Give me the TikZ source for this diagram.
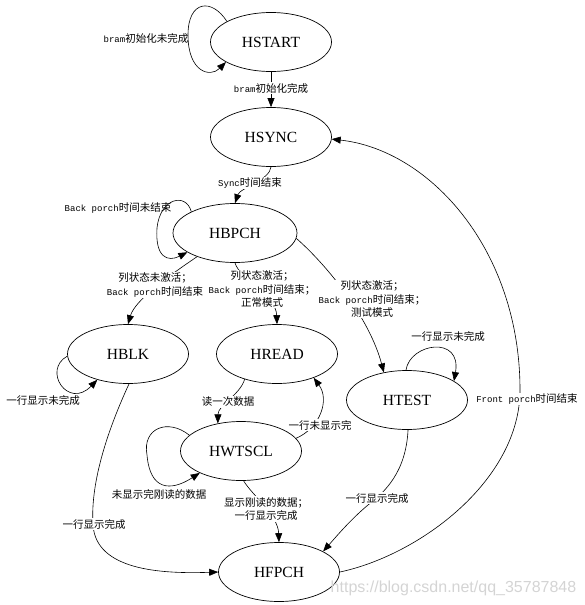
\documentclass[tikz,border=0pt]{standalone}
\usepackage{fontspec}
\usetikzlibrary{shapes.geometric,arrows.meta}
\setmainfont{Liberation Serif}
\newfontfamily\cjkf{Noto Sans CJK SC}
\newfontfamily\lmono{Liberation Mono}
\newfontfamily\wmfont{Liberation Sans}
\newcommand{\lm}[1]{{\lmono\fontsize{9}{13.5}\selectfont #1}}
\begin{document}
\begin{tikzpicture}[x=1pt,y=-1pt,
  state/.style={ellipse,draw,line width=0.7pt,minimum width=121pt,minimum height=59pt,inner sep=0pt,font=\fontsize{15.5}{18}\selectfont},
  lab/.style={font=\cjkf\fontsize{10.5}{13.5}\selectfont,align=center,inner sep=1pt},
  wlab/.style={lab,fill=white},
  edge/.style={line width=0.6pt,-{Triangle[length=9pt,width=7pt]}}
]
\useasboundingbox (0,0) rectangle (584,605);

% states
\node[state] (hstart) at (271,42) {HSTART};
\node[state] (hsync)  at (271,137) {HSYNC};
\node[state,minimum width=124pt] (hbpch) at (235,233) {HBPCH};
\node[state] (hblk)   at (128,354) {HBLK};
\node[state] (hread)  at (277,354) {HREAD};
\node[state] (htest)  at (407,400) {HTEST};
\node[state] (hwtscl) at (241,451) {HWTSCL};
\node[state] (hfpch)  at (279,572) {HFPCH};

% edges
\draw[edge] (hstart.155) .. controls (212,-2) and (188,0) .. (188,35) .. controls (188,72) and (210,78) .. (hstart.204);
\draw[edge] (hstart) -- (hsync);
\draw[edge] (hsync.south) .. controls (270,180) and (240,188) .. (hbpch.north);
\draw[edge] (hbpch.154) .. controls (186,192) and (160,198) .. (157,228) .. controls (155,258) and (168,262) .. (hbpch.202);
\draw[edge] (hbpch.212) .. controls (170,275) and (135,300) .. (hblk.north);
\draw[edge] (hbpch.south) .. controls (240,280) and (276,295) .. (hread.north);
\draw[edge] (hbpch.-5) .. controls (330,268) and (370,320) .. (htest.130);
\draw[edge] (htest.92) .. controls (410,343) and (462,335) .. (htest.22);
\draw[edge] (hblk.182) .. controls (42,370) and (68,410) .. (hblk.220);
\draw[edge] (hblk.-88) .. controls (110,425) and (90,480) .. (93,525) .. controls (96,570) and (160,574) .. (hfpch.west);
\draw[edge] (hread.218) .. controls (240,395) and (218,405) .. (hwtscl.130);
\draw[edge] (hwtscl.13) .. controls (320,428) and (330,400) .. (hread.-33);
\draw[edge] (hwtscl.163) .. controls (168,418) and (142,428) .. (147,455) .. controls (150,490) and (170,492) .. (hwtscl.208);
\draw[edge] (hwtscl.-85) .. controls (252,495) and (278,515) .. (hfpch.north);
\draw[edge] (htest.-88) .. controls (406,472) and (385,492) .. (368,505) .. controls (350,520) and (335,538) .. (hfpch.25);
\draw[edge] (hfpch.east) .. controls (420,555) and (520,480) .. (520,390) .. controls (520,250) and (430,150) .. (hsync.-2);

% labels
\node[lab]  (l1)  at (146,38)  {\lm{bram}初始化未完成};
\node[wlab] (l2)  at (271,88)  {\lm{bram}初始化完成};
\node[wlab] (l3)  at (250,183) {\lm{Sync}时间结束};
\node[lab]  (l4)  at (118,208) {\lm{Back porch}时间未结束};
\node[wlab] (l5)  at (155,285) {列状态未激活；\\\lm{Back porch}时间结束};
\node[wlab] (l6)  at (262,289) {列状态激活；\\\lm{Back porch}时间结束；\\正常模式};
\node[wlab] (l7)  at (372,299) {列状态激活；\\\lm{Back porch}时间结束；\\测试模式};
\node[lab]  (l8)  at (448,336) {一行显示未完成};
\node[lab]  (l9)  at (43,400)  {一行显示未完成};
\node[wlab] (l10) at (94,524)  {一行显示完成};
\node[wlab] (l11) at (228,402) {读一次数据};
\node[wlab] (l12) at (320,425) {一行未显示完};
\node[wlab] (l13) at (159,494) {未显示完刚读的数据};
\node[wlab] (l14) at (266,509) {显示刚读的数据；\\一行显示完成};
\node[wlab] (l15) at (377,498) {一行显示完成};
\node[wlab] (l16) at (527,399) {\lm{Front porch}时间结束};

% watermark
\node[anchor=base,inner sep=0pt,text=black!17,font=\wmfont\fontsize{16}{18}\selectfont] (wm) at (453.5,592) {https://blog.csdn.net/qq\_35787848};
\end{tikzpicture}
\end{document}
